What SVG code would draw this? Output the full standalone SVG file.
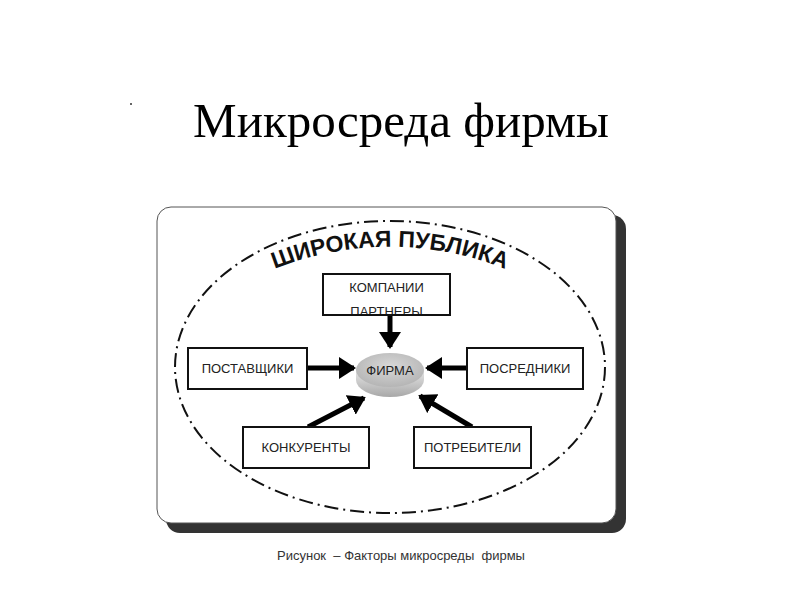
<svg xmlns="http://www.w3.org/2000/svg" width="800" height="600" viewBox="0 0 800 600">
<style>
.box{fill:#fff;stroke:#111;stroke-width:2}
.lbl{font-family:"Liberation Sans",Arial,sans-serif;font-size:13px;fill:#222;text-anchor:middle}
.arr{stroke:#000;stroke-width:5;fill:none;marker-end:url(#ah)}
</style>
<defs>
<marker id="ah" markerUnits="userSpaceOnUse" markerWidth="20" markerHeight="22" refX="15" refY="11" orient="auto">
<path d="M0,0 L17,11 L0,22 Z" fill="#000"/>
</marker>
<linearGradient id="disk" x1="0" y1="0" x2="0" y2="1">
<stop offset="0" stop-color="#e6e6e6"/>
<stop offset="1" stop-color="#a8a8a8"/>
</linearGradient>
<radialGradient id="top" cx="0.5" cy="0.4" r="0.6">
<stop offset="0" stop-color="#d8d8d8"/>
<stop offset="1" stop-color="#b5b5b5"/>
</radialGradient>
<clipPath id="kp"><rect x="323" y="274" width="127" height="40"/></clipPath>
<path id="arc" d="M 230 291 A 312 312 0 0 1 550 291"/>
</defs>
<rect width="800" height="600" fill="#fff"/>
<circle cx="131" cy="104" r="1" fill="#333"/>
<text x="401" y="137" font-family="Liberation Serif,'Times New Roman',serif" font-size="49" text-anchor="middle" fill="#000">Микросреда фирмы</text>
<g id="panel">
<rect x="166" y="215" width="460" height="318" rx="14" fill="#333"/>
<rect x="157" y="207" width="459" height="316" rx="14" fill="#fff" stroke="#555" stroke-width="1"/>
</g>
<g id="public">
<ellipse cx="390" cy="367" rx="215" ry="146" fill="none" stroke="#111" stroke-width="2" stroke-dasharray="14 5 2 5"/>
<text font-family="Liberation Sans,Arial,sans-serif" font-weight="bold" font-size="23" fill="#111" text-anchor="middle"><textPath href="#arc" startOffset="50%">ШИРОКАЯ ПУБЛИКА</textPath></text>
</g>
<g id="connectors">
<line class="arr" x1="390" y1="315" x2="390" y2="347"/>
<line class="arr" x1="307" y1="368" x2="354" y2="368"/>
<line class="arr" x1="467" y1="368" x2="427" y2="368"/>
<line class="arr" x1="308" y1="427" x2="364" y2="398"/>
<line class="arr" x1="472" y1="427" x2="420" y2="396"/>
</g>
<g id="partners">
<rect class="box" x="323" y="274" width="127" height="41"/>
<g clip-path="url(#kp)">
<text class="lbl" x="386.5" y="292">КОМПАНИИ</text>
<text class="lbl" x="386.5" y="315.5">ПАРТНЕРЫ</text>
</g>
</g>
<g id="suppliers">
<rect class="box" x="188" y="348" width="119" height="41"/>
<text class="lbl" x="247.5" y="373">ПОСТАВЩИКИ</text>
</g>
<g id="intermediaries">
<rect class="box" x="467" y="348" width="116" height="41"/>
<text class="lbl" x="525" y="373">ПОСРЕДНИКИ</text>
</g>
<g id="competitors">
<rect class="box" x="243" y="427" width="126" height="41"/>
<text class="lbl" x="306" y="452">КОНКУРЕНТЫ</text>
</g>
<g id="consumers">
<rect class="box" x="414" y="427" width="117" height="41"/>
<text class="lbl" x="472.5" y="452">ПОТРЕБИТЕЛИ</text>
</g>
<g id="firm">
<path d="M356,370 L356,380 A34,17 0 0 0 424,380 L424,370 Z" fill="url(#disk)"/>
<ellipse cx="390" cy="370" rx="34" ry="17" fill="url(#top)"/>
<text class="lbl" x="390" y="375" font-size="12">ФИРМА</text>
</g>
<text x="401" y="560" font-family="Liberation Sans,Arial,sans-serif" font-size="13" fill="#333" text-anchor="middle" xml:space="preserve">Рисунок  – Факторы микросреды  фирмы</text>
</svg>
